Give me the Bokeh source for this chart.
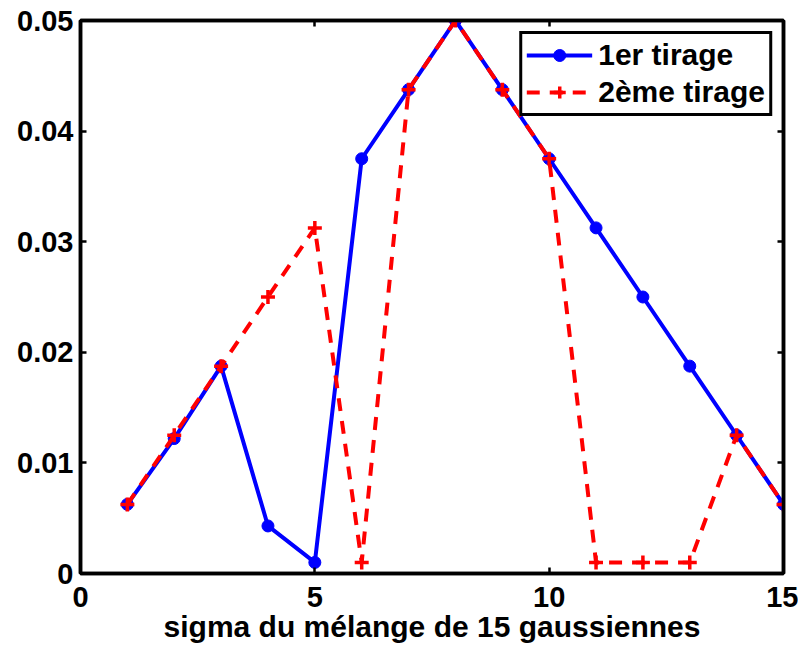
from bokeh.plotting import figure
from bokeh.models import FixedTicker, LinearAxis, Range1d, Legend, LegendItem
from bokeh.embed import file_html
from bokeh.resources import INLINE

x = list(range(1, 16))
tirage1 = [0.00625, 0.0122, 0.01875, 0.0043, 0.001, 0.0375, 0.04375, 0.05,
           0.04375, 0.0375, 0.03125, 0.025, 0.01875, 0.0125, 0.00625]
tirage2 = [0.00625, 0.0125, 0.01875, 0.025, 0.03125, 0.001, 0.04375, 0.05,
           0.04375, 0.0375, 0.001, 0.001, 0.001, 0.0125, 0.00625]
xticks = [0, 5, 10, 15]
yticks = [0, 0.01, 0.02, 0.03, 0.04, 0.05]
ylabels = ["0", "0.01", "0.02", "0.03", "0.04", "0.05"]
xlabel = "sigma du mélange de 15 gaussiennes"

FONT = "Liberation Sans"
FS = "29px"

p = figure(frame_width=703, frame_height=553, output_backend="svg", toolbar_location=None,
           x_range=Range1d(0, 15), y_range=Range1d(0, 0.05),
           min_border_left=80, min_border_top=20, min_border_right=15, min_border_bottom=72)
p.background_fill_color = "white"
p.border_fill_color = "white"
p.outline_line_color = "black"
p.outline_line_width = 3.5
p.grid.visible = False

l1 = p.line(x, tirage1, line_color="#0000ff", line_width=4)
c1 = p.scatter(x, tirage1, marker="circle", size=12, fill_color="#0000ff", line_color="#0000ff")
l2 = p.line(x, tirage2, line_color="#ff0000", line_width=4, line_dash="13 10")
c2 = p.scatter(x, tirage2, marker="cross", size=14, line_color="#ff0000", line_width=3.5)

def style(ax):
    ax.axis_line_width = 3.5
    ax.major_tick_in = 6
    ax.major_tick_out = 0
    ax.major_tick_line_width = 2.5
    ax.minor_tick_line_color = None
    ax.major_label_text_font = FONT
    ax.major_label_text_font_style = "bold"
    ax.major_label_text_font_size = FS
    ax.major_label_text_color = "black"

p.xaxis.ticker = FixedTicker(ticks=xticks)
p.yaxis.ticker = FixedTicker(ticks=yticks)
p.yaxis.major_label_overrides = {v: s for v, s in zip(yticks, ylabels)}
style(p.xaxis[0])
style(p.yaxis[0])
p.xaxis.major_label_standoff = 13
p.yaxis.major_label_standoff = 7
p.xaxis.axis_label = xlabel
p.xaxis.axis_label_text_font = FONT
p.xaxis.axis_label_text_font_style = "bold"
p.xaxis.axis_label_text_font_size = "30px"
p.xaxis.axis_label_text_color = "black"
p.xaxis.axis_label_standoff = 0

top = LinearAxis(ticker=FixedTicker(ticks=xticks))
right = LinearAxis(ticker=FixedTicker(ticks=yticks))
style(top)
style(right)
top.major_label_overrides = {v: "" for v in xticks}
right.major_label_overrides = {v: "" for v in yticks}
top.major_label_standoff = 0
right.major_label_standoff = 0
p.add_layout(top, "above")
p.add_layout(right, "right")

legend = Legend(items=[LegendItem(label="1er tirage", renderers=[l1, c1]),
                       LegendItem(label="2ème tirage", renderers=[l2, c2])],
                location="top_right")
legend.margin = 11
legend.border_line_color = "black"
legend.border_line_alpha = 1.0
legend.border_line_width = 3.5
legend.label_text_font = FONT
legend.label_text_font_style = "bold"
legend.label_text_font_size = "30px"
legend.label_text_color = "black"
legend.label_height = 30
legend.glyph_height = 30
legend.glyph_width = 66
legend.label_standoff = 6
legend.spacing = 3
legend.padding = 4
p.add_layout(legend)

open("out.html", "w").write(file_html(p, INLINE))
